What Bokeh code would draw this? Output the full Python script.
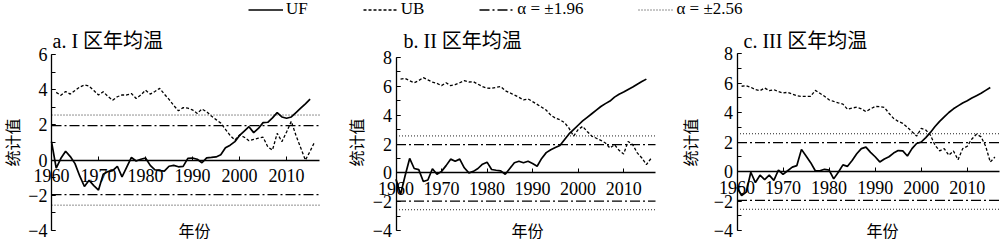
import math
from bokeh.plotting import figure
from bokeh.models import (Range1d, LinearAxis, SingleIntervalTicker, FixedTicker,
                          Label, Legend, LegendItem)
from bokeh.layouts import column, row
from bokeh.embed import file_html
from bokeh.resources import INLINE

# ---------------- data ----------------
years_uf = list(range(1960, 2016))
years_ub = list(range(1961, 2017))
x_ticks = [1960, 1970, 1980, 1990, 2000, 2010]
x_start, x_end = 1960, 2017
y_min = -4
alpha_95 = 1.96
alpha_99 = 2.56

titles = ["a. I 区年均温", "b. II 区年均温", "c. III 区年均温"]
y_max = [6, 8, 8]
y_label = "统计值"
x_label = "年份"

uf_a = [1.05, -0.45, 0.1, 0.5, 0.2, -0.2, -0.9, -1.5, -1.15, -1.45,
        -1.7, -0.8, -0.65, -0.6, -0.35, -0.95, -0.4, 0.15, -0.05, 0.05,
        0.12, -0.3, -0.55, -0.6, -0.63, -0.35, -0.3, -0.38, -0.36, 0.1,
        0.12, 0.05, -0.15, 0.13, 0.15, 0.18, 0.3, 0.7, 0.85, 1.05,
        1.4, 1.65, 1.9, 1.56, 1.8, 2.13, 2.15, 2.4, 2.7, 2.45,
        2.38, 2.45, 2.7, 2.95, 3.2, 3.47]
ub_a = [3.85, 3.68, 3.9, 3.75, 3.95, 4.15, 4.27, 4.2, 3.95, 3.7,
        3.88, 3.62, 3.4, 3.6, 3.7, 3.7, 3.78, 3.5, 3.7, 3.97,
        3.75, 3.9, 4.08, 3.75, 3.45, 3.1, 2.8, 2.98, 2.95, 2.85,
        2.65, 2.9, 2.75, 2.5, 2.3, 2.1, 1.75, 1.4, 1.14, 1.43,
        1.3, 1.1, 1.18, 1.25, 1.3, 0.75, 0.57, 1.52, 1.05, 1.6,
        2.2, 1.4, 0.7, 0.0, 0.5, 1.05]

uf_b = [-0.45, -1.5, -0.2, 1.0, 0.3, 0.22, -0.6, -0.5, 0.28, -0.1,
        0.1, 0.5, 0.95, 0.8, 0.95, 0.35, 0.0, 0.1, 0.3, 0.6,
        0.74, 0.23, 0.18, 0.14, -0.1, 0.3, 0.7, 0.8, 0.7, 0.8,
        0.64, 0.46, 1.0, 1.4, 1.6, 1.75, 1.9, 2.3, 2.7, 3.0,
        3.3, 3.6, 3.85, 4.1, 4.35, 4.6, 4.8, 4.98, 5.25, 5.45,
        5.6, 5.78, 5.95, 6.15, 6.33, 6.5]
ub_b = [6.5, 6.55, 6.39, 6.25, 6.4, 6.6, 6.45, 6.3, 6.2, 6.05,
        6.25, 6.05, 6.12, 6.25, 6.39, 6.3, 6.32, 6.15, 5.98, 5.88,
        5.86, 5.93, 5.98, 5.7, 5.55, 5.4, 5.24, 5.06, 5.13, 4.94,
        4.75, 4.55, 4.35, 4.0, 3.8, 3.68, 3.49, 3.1, 2.55, 2.99,
        3.22, 2.87, 2.55, 2.4, 2.25, 2.07, 1.72, 1.95, 1.56, 1.31,
        2.18, 1.95, 1.38, 1.03, 0.57, 0.99]

uf_c = [-1.07, -1.64, -1.4, -0.05, -0.75, -0.25, -0.55, -0.25, -0.6, 0.1,
        -0.2, 0.05, 0.3, 0.4, 1.5, 1.05, 0.6, 0.05, 0.05, 0.15,
        0.1, -0.5, -0.05, 0.45, 0.35, 0.75, 1.2, 1.55, 1.65, 1.3,
        1.0, 0.65, 0.85, 1.0, 1.25, 1.42, 1.4, 1.05, 1.55, 1.9,
        2.0, 2.3, 2.65, 3.05, 3.4, 3.7, 4.0, 4.25, 4.45, 4.65,
        4.8, 4.98, 5.14, 5.3, 5.5, 5.7]
ub_c = [5.78, 5.82, 5.71, 5.55, 5.48, 5.66, 5.48, 5.55, 5.42, 5.32,
        5.37, 5.25, 5.14, 5.09, 5.09, 5.1, 5.5, 5.3, 5.1, 4.86,
        4.75, 4.65, 4.57, 4.22, 4.3, 4.36, 4.25, 4.06, 4.25, 4.41,
        4.4, 4.34, 3.95, 3.6, 3.4, 3.26, 3.0, 2.7, 2.4, 2.92,
        2.81, 2.47, 1.78, 1.4, 1.55, 1.1, 1.39, 0.8, 1.55, 1.71,
        2.2, 2.53, 2.35, 1.71, 0.64, 0.98]

uf_all = [uf_a, uf_b, uf_c]
ub_all = [ub_a, ub_b, ub_c]

# ---------------- styles ----------------
SERIF = "'Liberation Serif'"
CJK = "'Noto Sans CJK SC'"
MIXED = "'Liberation Serif', 'Noto Sans CJK SC'"
UF_STYLE = dict(line_color="black", line_width=1.7)
UB_STYLE = dict(line_color="black", line_width=1.3, line_dash="3 2")
A95_STYLE = dict(line_color="black", line_width=1.3, line_dash="10 3 2 3")
A99_STYLE = dict(line_color="#222222", line_width=1.0, line_dash="1 2")

# pixel layout of each panel figure (figure-local px, origin top-left)
PANEL_H = 220
LEG_H = 22
layouts = [
    dict(width=333, axL=51, axR=319, axT=32, axB=208,
         title_x=52, ylab_x=11, xlab_x=194),
    dict(width=333, axL=62.5, axR=322, axT=35, axB=208,
         title_x=70, ylab_x=22.5, xlab_x=194),
    dict(width=334, axL=70.5, axR=333, axT=31, axB=208,
         title_x=77, ylab_x=23.5, xlab_x=216),
]
TITLE_CY = 18      # from top
YLAB_CY = 120      # from top
XLAB_CY = 207.5    # from top


def make_panel(i):
    L = layouts[i]
    W, H = L["width"], PANEL_H
    ppx = (L["axR"] - L["axL"]) / (x_end - x_start)
    ppy = (L["axB"] - L["axT"]) / (y_max[i] - y_min)
    xr = Range1d(x_start - L["axL"] / ppx, x_start + (W - L["axL"]) / ppx)
    yr = Range1d(y_min - (H - L["axB"]) / ppy, y_max[i] + L["axT"] / ppy)

    p = figure(width=W, height=H, x_range=xr, y_range=yr,
               output_backend="svg", toolbar_location=None,
               x_axis_location=None, y_axis_location=None, min_border=0)
    p.outline_line_color = None
    p.xgrid.grid_line_color = None
    p.ygrid.grid_line_color = None
    p.background_fill_color = "white"
    p.border_fill_color = "white"

    yaxis = LinearAxis(fixed_location=x_start, bounds=(y_min, y_max[i]),
                       ticker=SingleIntervalTicker(interval=2, num_minor_ticks=2),
                       major_tick_in=4, major_tick_out=0,
                       minor_tick_in=4, minor_tick_out=0,
                       major_label_standoff=4,
                       major_label_text_font=SERIF,
                       major_label_text_font_size="18px",
                       major_label_text_color="black",
                       major_label_overrides={-4: "\u22124", -2: "\u22122"},
                       axis_line_width=1.3, axis_line_color="black",
                       major_tick_line_color="black", minor_tick_line_color="black")
    p.add_layout(yaxis, "left")

    xaxis = LinearAxis(fixed_location=0, bounds=(x_start, x_end),
                       ticker=FixedTicker(ticks=x_ticks),
                       major_tick_in=4, major_tick_out=0,
                       minor_tick_in=0, minor_tick_out=0,
                       major_label_standoff=9,
                       major_label_text_font=SERIF,
                       major_label_text_font_size="18px",
                       major_label_text_color="black",
                       axis_line_width=1.5, axis_line_color="black",
                       major_tick_line_color="black")
    p.add_layout(xaxis, "below")

    levels = [alpha_99, -alpha_99]
    p.segment(x0=[x_start] * 2, x1=[x_end] * 2, y0=levels, y1=levels, **A99_STYLE)
    levels = [alpha_95, -alpha_95]
    p.segment(x0=[x_start] * 2, x1=[x_end] * 2, y0=levels, y1=levels, **A95_STYLE)

    p.line(years_ub, ub_all[i], **UB_STYLE)
    p.line(years_uf, uf_all[i], **UF_STYLE)

    p.add_layout(Label(x=L["title_x"], y=H - TITLE_CY, x_units="screen", y_units="screen",
                       text=titles[i], text_align="left", text_baseline="middle",
                       text_font=MIXED, text_font_size="20px", text_color="black"))
    p.add_layout(Label(x=L["ylab_x"], y=H - YLAB_CY, x_units="screen", y_units="screen",
                       text=y_label, angle=math.pi / 2, text_align="center",
                       text_baseline="middle", text_font=CJK, text_font_size="16px",
                       text_color="black"))
    p.add_layout(Label(x=L["xlab_x"], y=H - XLAB_CY, x_units="screen", y_units="screen",
                       text=x_label, text_align="center", text_baseline="middle",
                       text_font=CJK, text_font_size="16px", text_color="black"))
    return p


panels = [make_panel(i) for i in range(3)]

# ---------------- legend strip ----------------
leg = figure(width=1000, height=LEG_H, x_range=Range1d(0, 1), y_range=Range1d(0, 1),
             output_backend="svg", toolbar_location=None,
             x_axis_location=None, y_axis_location=None, min_border=0)
leg.outline_line_color = None
leg.xgrid.grid_line_color = None
leg.ygrid.grid_line_color = None
# renderers carry real series (they fall outside this strip's ranges; only their keys show)
r_uf = leg.line(years_uf, uf_a, **UF_STYLE)
r_ub = leg.line(years_ub, ub_a, **UB_STYLE)
r_95 = leg.line(years_uf, [alpha_95] * len(years_uf), **A95_STYLE)
r_99 = leg.line(years_uf, [alpha_99] * len(years_uf), **A99_STYLE)
legend = Legend(items=[LegendItem(label="UF", renderers=[r_uf]),
                       LegendItem(label="UB", renderers=[r_ub]),
                       LegendItem(label="\u03b1 = \u00b11.96", renderers=[r_95]),
                       LegendItem(label="\u03b1 = \u00b12.56", renderers=[r_99])],
                orientation="horizontal", location=(248, 3),
                padding=0, margin=0, spacing=55,
                glyph_width=35, glyph_height=17, label_height=17, label_standoff=3,
                border_line_color=None, background_fill_alpha=0,
                label_text_font=SERIF, label_text_font_size="17px",
                label_text_color="black")
leg.add_layout(legend)

layout = column(leg, row(*panels))
open("out.html", "w").write(file_html(layout, INLINE))
